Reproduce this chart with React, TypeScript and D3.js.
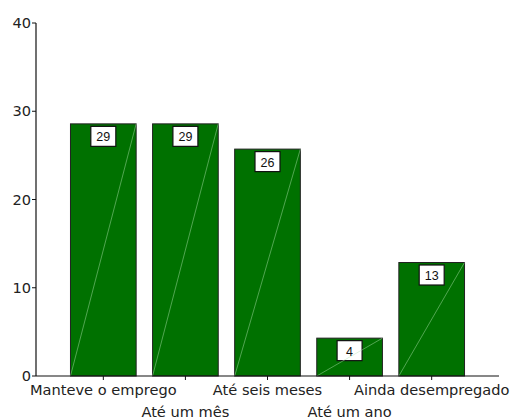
import React from "react";
import * as d3 from "d3";

// Share of respondents by time to re-employment (%)
const categories = [
  "Manteve o emprego",
  "Até um mês",
  "Até seis meses",
  "Até um ano",
  "Ainda desempregado",
];
const values = [28.57, 28.57, 25.71, 4.29, 12.86];
const yTicks = [0, 10, 20, 30, 40];

const W = 513;
const H = 419;
const margin = { left: 36, right: 14, top: 23, bottom: 43 };

export default function App() {
  const x = d3
    .scaleBand<string>()
    .domain(categories)
    .range([margin.left, W - margin.right])
    .paddingInner(0.2)
    .paddingOuter(0.42);
  const y = d3
    .scaleLinear()
    .domain([0, 40])
    .range([H - margin.bottom, margin.top]);
  const fmt = d3.format(".0f");
  const font = "'DejaVu Sans', Verdana, sans-serif";
  const y0 = y(0);
  const bw = x.bandwidth();

  return (
    <svg
      width={W}
      height={H}
      style={{ position: "absolute", left: 0, top: 0, background: "#fff" }}
    >
      {/* bars */}
      {categories.map((c, i) => {
        const x0 = x(c)!;
        const top = y(values[i]);
        const cx = x0 + bw / 2;
        return (
          <g key={c}>
            <rect
              x={x0}
              y={top}
              width={bw}
              height={y0 - top}
              fill="#007100"
              stroke="#222"
              strokeWidth={1}
            />
            <rect
              x={cx - 12.5}
              y={top + 2.5}
              width={25}
              height={20}
              fill="#fff"
              stroke="#111"
              strokeWidth={1.2}
            />
            <line
              x1={x0}
              y1={y0}
              x2={x0 + bw}
              y2={top}
              stroke="#b5e6b5"
              strokeWidth={0.6}
              strokeOpacity={0.75}
            />
            <text
              x={cx}
              y={top + 17.5}
              textAnchor="middle"
              fontFamily="'Liberation Sans', Arial, sans-serif"
              fontSize={12.5}
              fill="#111"
            >
              {fmt(values[i])}
            </text>
          </g>
        );
      })}

      {/* y axis */}
      <line x1={margin.left} x2={margin.left} y1={y(40)} y2={y0} stroke="#111" strokeWidth={1.2} />
      {yTicks.map((t) => (
        <g key={t}>
          <line x1={margin.left - 4} x2={margin.left} y1={y(t)} y2={y(t)} stroke="#111" />
          <text
            x={margin.left - 5}
            y={y(t) + 5}
            textAnchor="end"
            fontFamily={font}
            fontSize={14.6}
            fill="#222"
          >
            {t}
          </text>
        </g>
      ))}

      {/* x axis */}
      <line x1={margin.left} x2={W - margin.right} y1={y0} y2={y0} stroke="#111" strokeWidth={1.2} />
      {categories.map((c, i) => {
        const cx = x(c)! + bw / 2;
        return (
          <g key={c}>
            <line x1={cx} x2={cx} y1={y0} y2={y0 + 4} stroke="#111" />
            <text
              x={cx}
              y={i % 2 === 0 ? 394.5 : 416.5}
              textAnchor="middle"
              fontFamily={font}
              fontSize={14.6}
              fill="#222"
            >
              {c}
            </text>
          </g>
        );
      })}
    </svg>
  );
}
